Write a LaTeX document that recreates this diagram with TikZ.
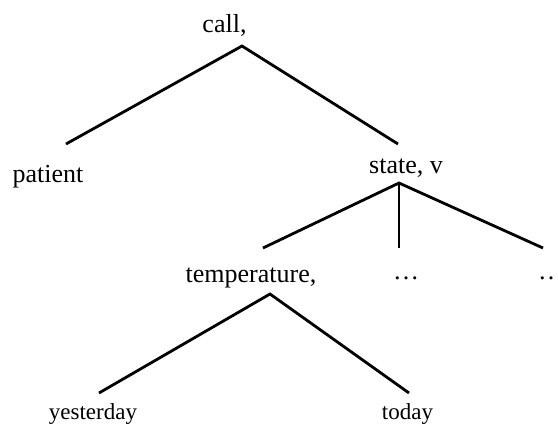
\documentclass[tikz,border=0pt]{standalone}
\usepackage{fontspec}
\setmainfont{Liberation Serif}
\begin{document}
\begin{tikzpicture}[x=1pt,y=-1pt,
  lbl/.style={anchor=base,inner sep=0pt,font=\fontsize{26}{31}\selectfont},
  small/.style={lbl,font=\fontsize{23}{28}\selectfont},
  edge/.style={line width=2.8pt,line cap=butt,line join=miter}]
\useasboundingbox (0,0) rectangle (558,426);
\clip (0,0) rectangle (558,426);
% labels
\node[lbl] (call) at (224.5,32) {call,};
\node[lbl] (patient) at (48,182) {patient};
\node[lbl] (state) at (406,173) {state, v};
\node[lbl] (temp) at (251,282) {temperature,};
\node[lbl] (dots1) at (406,279) {\dots};
\node[lbl] (dots2) at (551,279) {\dots};
\node[small] (yest) at (93,419) {yesterday};
\node[small] (today) at (407.5,419) {today};
% connector points
\coordinate (callTop) at (242,46);
\coordinate (patientTop) at (66,144);
\coordinate (stateIn) at (398,144);
\coordinate (stateTop) at (399,183);
\coordinate (tempIn) at (263,248);
\coordinate (dotsIn) at (399,248);
\coordinate (dotsTwoIn) at (543,248);
\coordinate (tempTop) at (270,294);
\coordinate (yestIn) at (99,393);
\coordinate (todayIn) at (409,393);
% connectors
\draw[edge] (patientTop) -- (callTop) -- (stateIn);
\draw[edge] (tempIn) -- (stateTop) -- (dotsTwoIn);
\draw[edge] (stateTop) -- (dotsIn);
\draw[edge] (yestIn) -- (tempTop) -- (todayIn);
\end{tikzpicture}
\end{document}
